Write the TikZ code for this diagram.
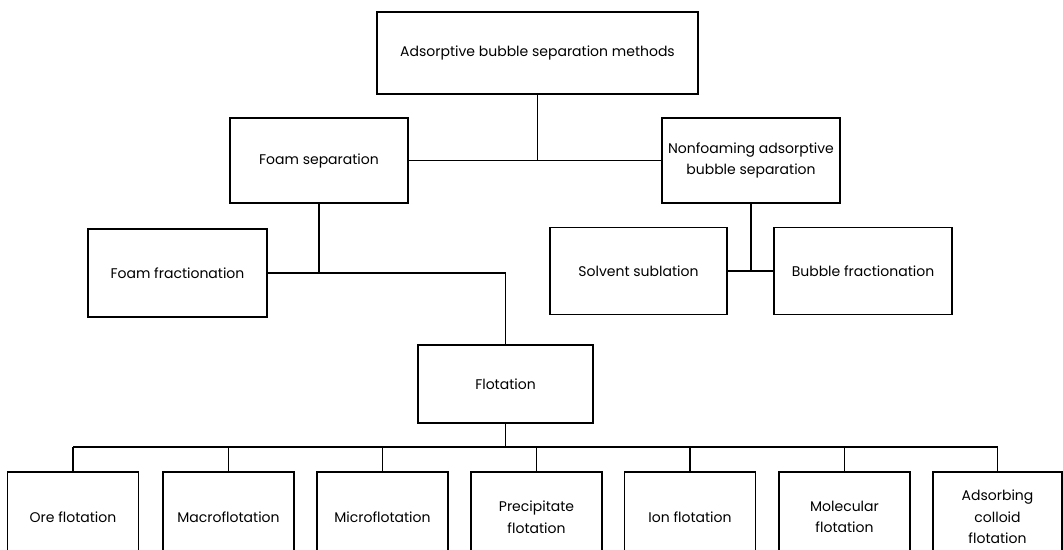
\documentclass[tikz,border=0pt]{standalone}
\usepackage{fontspec}
\setmainfont{Poppins}
\usetikzlibrary{scopes}

\tikzset{
  box/.style={draw, line width=1.3pt, align=center, inner sep=2pt,
    font=\fontsize{14}{21.5}\selectfont},
  leaf/.style={box, minimum width=131pt, minimum height=90pt},
  link/.style={line width=1.3pt}
}

\begin{document}
\begin{tikzpicture}[x=1pt, y=-1pt]
  \useasboundingbox (0,0) rectangle (1063,549);
  \begin{scope}
    \clip (0,0) rectangle (1063,549);
    \node[box, minimum width=321pt, minimum height=82pt] (absm) at (537.5,53) {Adsorptive bubble separation methods};
    \node[box, minimum width=178pt, minimum height=85pt] (foamsep) at (319,160.5) {Foam separation};
    \node[box, minimum width=178pt, minimum height=85pt] (nonfoam) at (751,160.5) {Nonfoaming adsorptive\\bubble separation};
    \node[box, minimum width=179pt, minimum height=88pt] (foamfrac) at (177.5,273) {Foam fractionation};
    \node[box, minimum width=177pt, minimum height=87pt] (solvent) at (638.5,271) {Solvent sublation};
    \node[box, minimum width=178pt, minimum height=87pt] (bubble) at (863,271) {Bubble fractionation};
    \node[box, minimum width=175pt, minimum height=78pt] (flot) at (505.5,384) {Flotation};

    \node[leaf] (ore) at (73,517) {Ore flotation};
    \node[leaf] (macro) at (228.5,517) {Macroflotation};
    \node[leaf] (micro) at (382.5,517) {Microflotation};
    \node[leaf] (precip) at (536.5,517) {Precipitate\\flotation};
    \node[leaf] (ion) at (690,517) {Ion flotation};
    \node[leaf] (molec) at (844.5,517) {Molecular\\flotation};
    \node[leaf, minimum width=129pt] (colloid) at (997.5,517) {Adsorbing\\colloid\\flotation};
  \end{scope}

  \coordinate (bus) at (505.5,447);

  { [link]
    \draw (foamsep.east) -- (nonfoam.west);
    \draw (absm.south) -- (absm.south |- foamsep.east);
    \draw (foamsep.south) -- (foamsep.south |- foamfrac.east);
    \draw (foamfrac.east) -- (flot.north |- foamfrac.east) -- (flot.north);
    \draw (nonfoam.south) -- (nonfoam.south |- solvent.east);
    \draw (solvent.east) -- (bubble.west);
    \draw (flot.south) -- (bus);
    \draw (ore.north |- bus) -- (colloid.north |- bus);
    \foreach \n in {ore,macro,micro,precip,ion,molec,colloid}
      \draw (\n.north) -- (\n.north |- bus);
  }
\end{tikzpicture}
\end{document}
